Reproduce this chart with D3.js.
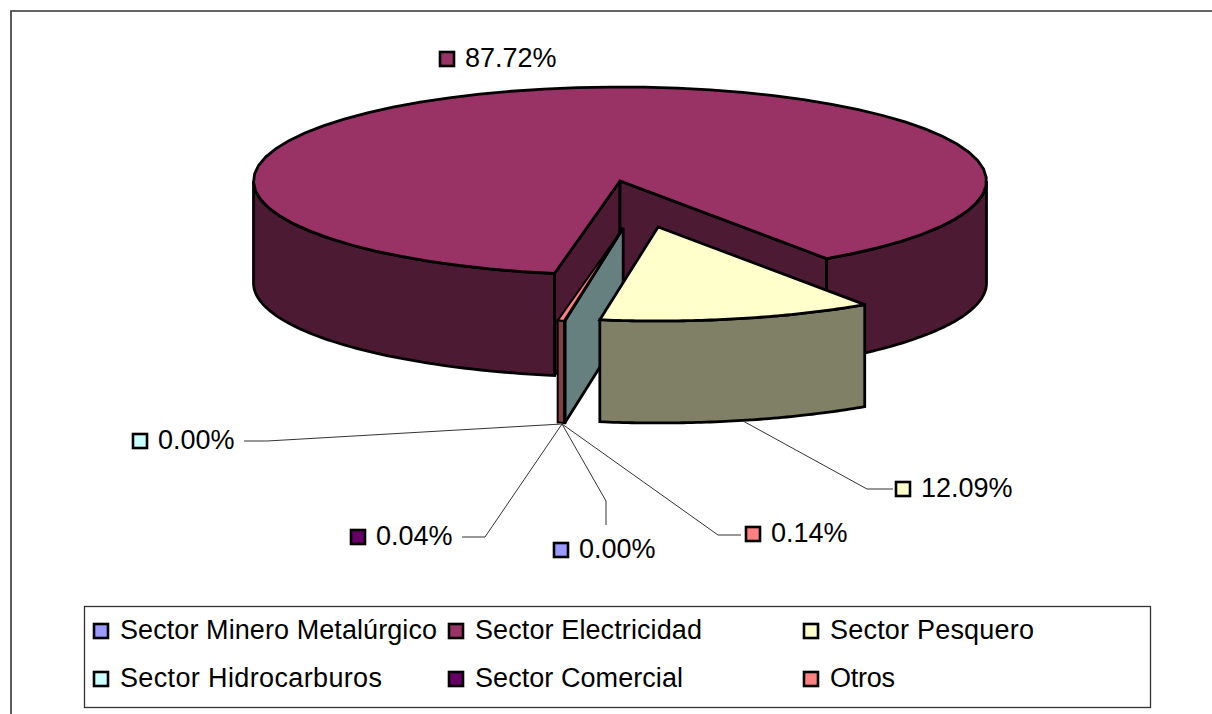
<!DOCTYPE html>
<html><head><meta charset="utf-8">
<script src="https://cdn.jsdelivr.net/npm/d3@7/dist/d3.min.js"></script>
<style>html,body{margin:0;padding:0;background:#fff}svg{display:block}text{font-family:"Liberation Sans",Arial,sans-serif;fill:#000}</style>
</head><body><svg id="c" width="1212" height="714"></svg>
<script>
// Data
const categories = ["Sector Minero Metalúrgico","Sector Electricidad","Sector Pesquero","Sector Hidrocarburos","Sector Comercial","Otros"];
const values = [0.00, 87.72, 12.09, 0.00, 0.04, 0.14];
const colors = ["#9999FF","#993366","#FFFFCC","#CCFFFF","#660066","#FF8080"];
const sideColors = ["#4D4D80","#4D1A33","#808066","#668080","#330033","#804040"];

// Layout
const W = 1212, H = 714;
const cx = 620, cy = 181, rx = 366.5, ry = 94, depth = 102;
const startDeg = 190.3, otrosMinShare = 0.28;
const explodeFrac = [0.5, 0, 0.5, 0.5, 0.5, 0.5];
const explodeDir = [179, 0, 168, 179, 179, 179];
const labelPos = [[561,550],[447,59],[903,489],[140,441],[358,537],[753,534]];
const leaders = [
  [[562,424],[606,501],[606,525]], null, [[743,421],[867,489],[893,489]],
  [[562,424],[267,441],[244,441]], [[562,424],[485,537],[462,537]], [[562,424],[718,535],[741,535]]
];
const legendCols = [101, 456, 811], legendRows = [631, 679];
const legendTextWidths = [317, 227, 204, 262, 208, 65];
const fontSize = 27;

const svg = d3.select("#c");
const px = d3.scaleLinear().domain([-1,1]).range([cx-rx,cx+rx]);
const py = d3.scaleLinear().domain([-1,1]).range([cy-ry,cy+ry]);
const pct = d3.format(".2f");

// frame
svg.append("path").attr("d",`M11,${H}V11H${W}`).attr("fill","none").attr("stroke","#333").attr("stroke-width",1.6);

const pie = d3.pie().sort(null).value((d,i) => i===5 ? Math.max(d,otrosMinShare) : d)
  .startAngle(startDeg*Math.PI/180).endAngle((startDeg+360)*Math.PI/180);
const arcs = pie(values);

function P(a, rad, off, z){ // angle (0 = top, clockwise), radius fraction
  return [px(rad*Math.sin(a)) + off[0], py(-rad*Math.cos(a)) + off[1] + (z||0)];
}
function offset(i){
  const a = explodeDir[i]*Math.PI/180, f = explodeFrac[i];
  return [px(f*Math.sin(a))-cx, py(-f*Math.cos(a))-cy];
}
const line = d3.line();
const closed = pts => line(pts)+"Z";
function rimSamples(a0,a1){ return d3.range(0,61).map(k=>a0+(a1-a0)*k/60); }

const g = svg.append("g").attr("stroke","#000").attr("stroke-width",2.8).attr("stroke-linejoin","miter").attr("stroke-miterlimit",3);

function wall(i,a,off){
  const c=P(a,0,off),e=P(a,1,off);
  g.append("path").attr("d",closed([c,e,[e[0],e[1]+depth],[c[0],c[1]+depth]])).attr("fill",sideColors[i]);
}
function rim(i,a0,a1,off,sw){
  // front-facing part only (angles in the bottom half of the ellipse)
  const TAU=2*Math.PI;
  for(let k=0;k<2;k++){
    const lo=Math.max(a0,Math.PI/2+k*TAU), hi=Math.min(a1,3*Math.PI/2+k*TAU);
    if(hi>lo){
      const s=rimSamples(lo,hi);
      const top=s.map(a=>P(a,1,off));
      const bot=s.slice().reverse().map(a=>P(a,1,off,depth));
      g.append("path").attr("d",closed(top.concat(bot))).attr("fill",sideColors[i]).attr("stroke-width",sw||null);
    }
  }
}
function topFace(i,a0,a1,off,sw){
  const pts=[P(0,0,off)].concat(rimSamples(a0,a1).map(a=>P(a,1,off)));
  g.append("path").attr("d",closed(pts)).attr("fill",colors[i]).attr("stroke-width",sw||null);
}
function slice(i, wallAngles, sw){
  const d=arcs[i], off=offset(i);
  if(d.endAngle-d.startAngle<=0) return;
  wallAngles.forEach(a=>wall(i,a,off));
  rim(i,d.startAngle,d.endAngle,off,sw);
  topFace(i,d.startAngle,d.endAngle,off,sw);
}
// electricity: both cut faces are visible
slice(1,[arcs[1].startAngle,arcs[1].endAngle]);
// slivers, hidrocarburos-coloured cut face in front
wall(3,arcs[4].startAngle,offset(3));
slice(4,[]);
slice(5,[],2);
// fishing wedge last
slice(2,[]);

// leaders
const lg=svg.append("g").attr("fill","none").attr("stroke","#333").attr("stroke-width",1);
leaders.forEach(l=>{ if(l) lg.append("path").attr("d",line(l)); });

// markers + labels
function marker(x,y,i){
  svg.append("rect").attr("x",x-7).attr("y",y-7).attr("width",14).attr("height",14)
    .attr("fill",colors[i]).attr("stroke","#000").attr("stroke-width",2.6);
}
values.forEach((v,i)=>{
  const [x,y]=labelPos[i];
  marker(x,y,i);
  svg.append("text").attr("x",x+18).attr("y",y+8).attr("font-size",fontSize).text(pct(v)+"%");
});

// legend
svg.append("rect").attr("x",84.5).attr("y",606.5).attr("width",1066).attr("height",101)
  .attr("fill","none").attr("stroke","#333").attr("stroke-width",1.3);
categories.forEach((c,i)=>{
  const x=legendCols[i%3], y=legendRows[Math.floor(i/3)];
  marker(x,y,i);
  svg.append("text").attr("x",x+19).attr("y",y+8).attr("font-size",fontSize)
    .attr("textLength",legendTextWidths[i]).attr("lengthAdjust","spacing").text(c);
});
</script></body></html>
